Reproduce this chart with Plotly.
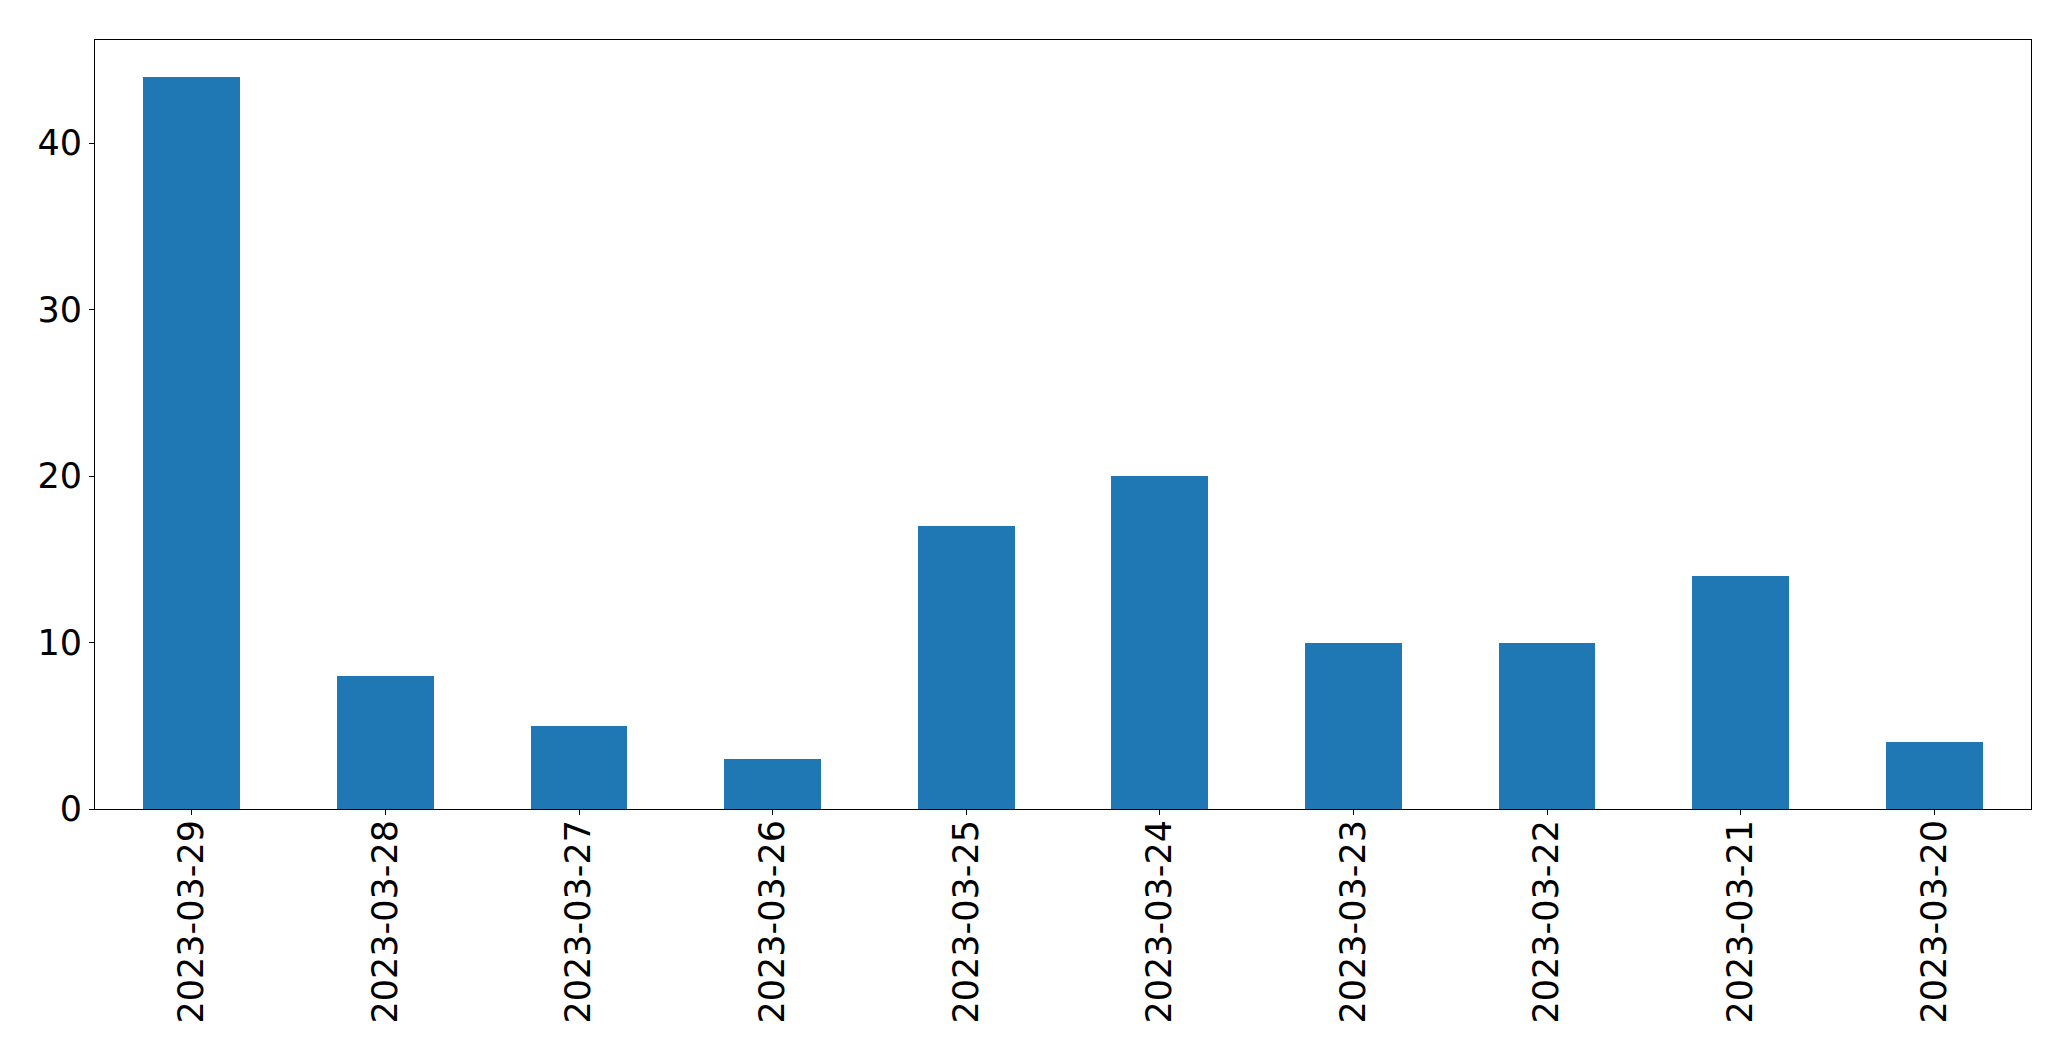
import plotly.graph_objects as go

dates = ["2023-03-29", "2023-03-28", "2023-03-27", "2023-03-26", "2023-03-25",
         "2023-03-24", "2023-03-23", "2023-03-22", "2023-03-21", "2023-03-20"]
counts = [44, 8, 5, 3, 17, 20, 10, 10, 14, 4]
y_ticks = [0, 10, 20, 30, 40]

fig = go.Figure(go.Bar(
    x=list(range(len(dates))), y=counts, width=0.5,
    marker=dict(color="#1f77b4", line=dict(width=0)),
))

# page body has an 8px default margin; compensate so the plot box lands where it should
fig.update_layout(
    width=2055, height=1045,
    margin=dict(l=86.5, r=31.5, t=31.5, b=243.7, pad=0),
    paper_bgcolor="white", plot_bgcolor="white",
    font=dict(family="DejaVu Sans", size=35, color="black"),
    showlegend=False,
    bargap=0,
)
fig.update_xaxes(
    range=[-0.5, 9.5], tickmode="array", tickvals=list(range(len(dates))),
    ticktext=dates, tickangle=-90, ticklabelstandoff=-9,
    showline=True, linecolor="black", linewidth=1.1, mirror=True,
    ticks="outside", ticklen=5, tickwidth=1.1, tickcolor="black",
    showgrid=False, zeroline=False,
)
fig.update_yaxes(
    range=[0, 46.2], tickmode="array", tickvals=y_ticks,
    showline=True, linecolor="black", linewidth=1.1, mirror=True,
    ticks="outside", ticklen=5, tickwidth=1.1, tickcolor="black",
    showgrid=False, zeroline=False,
)

fig.write_html("out.html")
